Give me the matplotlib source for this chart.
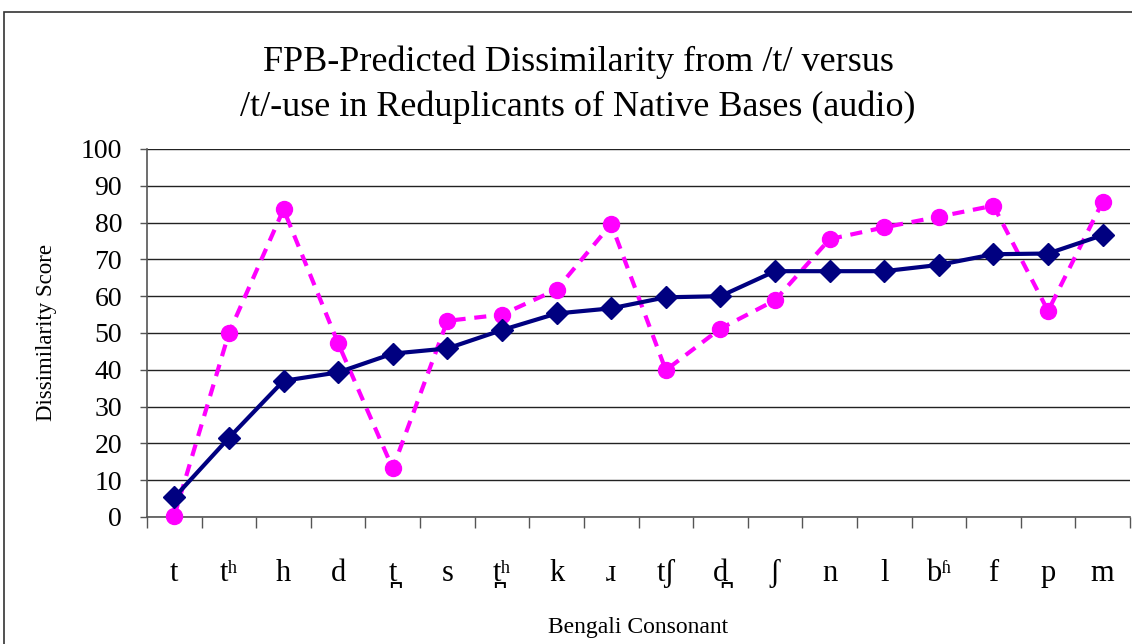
import matplotlib
matplotlib.use("Agg")
import matplotlib.pyplot as plt
from matplotlib.patches import Rectangle

categories = ["t", "tʰ", "h", "d", "t̪", "s", "t̪ʰ", "k", "ɹ", "tʃ", "d̪", "ʃ", "n", "l", "bʱ", "f", "p", "m"]
fpb_dissimilarity = [5.3, 21.5, 37.0, 39.3, 44.4, 45.8, 50.8, 55.3, 56.7, 59.7, 60.0, 66.8, 66.8, 66.8, 68.5, 71.4, 71.6, 76.6]
t_use = [0.3, 50.0, 83.6, 47.2, 13.2, 53.3, 55.0, 61.8, 79.6, 39.9, 51.2, 58.9, 75.5, 78.7, 81.6, 84.6, 56.0, 85.7]
yticks = list(range(0, 101, 10))

fam = ["Liberation Serif", "DejaVu Serif"]
plt.rcParams["font.family"] = fam

W, H = 1132, 644
fig = plt.figure(figsize=(W / 100, H / 100), dpi=100)
fig.patch.set_facecolor("white")

# outer chart border
fig.patches.append(Rectangle((4 / W, -0.05), 1.2, 1 - 12 / H + 0.05, transform=fig.transFigure,
                             fill=False, edgecolor="#333333", linewidth=1.2))

ax = fig.add_axes([147 / W, (H - 517) / H, (1130 - 147) / W, (517 - 149) / H])
x = list(range(len(categories)))

ax.plot(x, t_use, color="#FF00FF", linestyle=(0, (2.9, 2.1)), linewidth=3.0,
        marker="o", markersize=11.5, zorder=3, clip_on=False)
ax.plot(x, fpb_dissimilarity, color="#000080", linewidth=3.0,
        marker="D", markersize=11, zorder=4, clip_on=False)

ax.set_xlim(-0.5, len(categories) - 0.5)
ax.set_ylim(0, 100)
ax.set_yticks(yticks)
ax.set_yticklabels([str(v) for v in yticks], fontsize=20)
ax.yaxis.grid(True, color="#222222", linewidth=1.0)
ax.set_axisbelow(True)

ax.set_xticks(x)
ax.set_xticklabels(categories, fontsize=22, family=fam)
ax.tick_params(axis="x", which="major", length=0, pad=30)
ax.set_xticks([i - 0.5 for i in range(len(categories) + 1)], minor=True)
ax.tick_params(axis="x", which="minor", length=8, width=1.0, color="#555555", direction="out")
ax.tick_params(axis="y", length=5, width=1.0, color="#555555", direction="out", pad=13)

for s in ["top", "right"]:
    ax.spines[s].set_visible(False)
ax.spines["left"].set_color("#555555")
ax.spines["bottom"].set_color("#555555")
ax.spines["left"].set_linewidth(1.2)
ax.spines["bottom"].set_linewidth(1.2)

fig.text(47 / W, 1 - 333 / H, "Dissimilarity Score", ha="center", va="center", rotation=90, fontsize=16.5)
fig.text(638 / W, 1 - 628 / H, "Bengali Consonant", ha="center", va="center", fontsize=17)

fig.text(578 / W, 1 - 62 / H, "FPB-Predicted Dissimilarity from /t/ versus", ha="center", va="center", fontsize=26)
fig.text(578 / W, 1 - 107 / H, "/t/-use in Reduplicants of Native Bases (audio)", ha="center", va="center", fontsize=26)

fig.savefig("out.png", dpi=100, facecolor="white")
